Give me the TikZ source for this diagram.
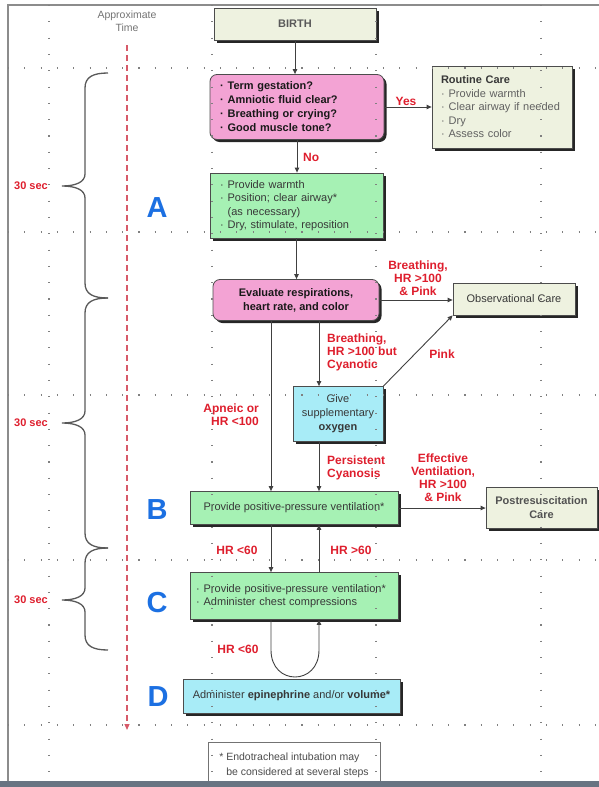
\documentclass[tikz,border=0pt]{standalone}
\usepackage{fontspec}
\setmainfont{Liberation Sans}
\usetikzlibrary{arrows.meta, shadows}

\definecolor{boxcream}{RGB}{238,242,224}
\definecolor{boxpink}{RGB}{243,163,212}
\definecolor{boxgreen}{RGB}{166,241,180}
\definecolor{boxcyan}{RGB}{168,236,247}
\definecolor{lblred}{RGB}{222,30,45}
\definecolor{stepblue}{RGB}{28,112,226}
\definecolor{timered}{RGB}{215,90,105}
\definecolor{barblue}{RGB}{104,116,130}
\newcommand{\itm}{\textperiodcentered\hspace{4pt}}

\tikzset{
  box/.style={draw=black!70, line width=0.8pt, text=black!78, inner sep=0pt,
    font=\fontsize{11}{13.5}\selectfont,
    drop shadow={shadow xshift=2.5pt, shadow yshift=-2.5pt, opacity=1, fill=black!85}},
  creambox/.style={box, fill=boxcream},
  pinkbox/.style={box, fill=boxpink, rounded corners=7pt, text=black!90,
    font=\fontsize{11}{14}\selectfont\bfseries},
  greenbox/.style={box, fill=boxgreen},
  cyanbox/.style={box, fill=boxcyan},
  arr/.style={-{Triangle[length=5pt,width=4.5pt]}, line width=0.9pt, draw=black!75},
  lbl/.style={text=lblred, font=\fontsize{12}{13}\selectfont\bfseries, inner sep=0pt},
  letter/.style={text=stepblue, font=\fontsize{29}{29}\selectfont\bfseries, inner sep=0pt},
  griddots/.style={black!50, line width=1.1pt, dash pattern=on 1.1pt off 15.2pt},
  brc/.style={black!65, line width=1.3pt},
}

\begin{document}
\begin{tikzpicture}[x=1pt, y=-1pt]
  \useasboundingbox (0,0) rectangle (599,787);
  % frame
  \draw[black!45, line width=1.6pt] (8,787) -- (8,5) -- (599,5);

  % time axis and braces
  \node[text=black!55, font=\fontsize{10.5}{13}\selectfont, align=center, inner sep=0pt] (time) at (127,21) {Approximate\\Time};
  \coordinate (ttop) at (127,45);
  \coordinate (tend) at (127,730);
  \draw[timered, line width=1.2pt, dash pattern=on 6pt off 4pt, -{Triangle[length=6pt,width=5pt]}] (ttop) -- (tend);
  \foreach \ya/\yb/\yc [count=\i] in {73/186/298, 298/423/548, 548/600/650} {
    \draw[brc] (108,\ya) .. controls (93,\ya) and (85,{\ya+4}) .. (85,{\ya+15})
      -- (85,{\yb-12}) .. controls (85,{\yb-4}) and (76,\yb) .. (62,\yb)
      .. controls (76,\yb) and (85,{\yb+4}) .. (85,{\yb+12})
      -- (85,{\yc-15}) .. controls (85,{\yc-4}) and (93,\yc) .. (108,\yc);
    \node[lbl, font=\fontsize{11}{13}\selectfont\bfseries] (sec\i) at (31,\yb) {30 sec};
  }

  % boxes
  \node[creambox, minimum width=162pt, minimum height=32pt, text=black!65, font=\fontsize{11}{13}\selectfont\bfseries] (birth) at (295,24) {BIRTH};
  \node[pinkbox, text width=154pt, inner xsep=10pt, minimum height=65pt, align=left] (assess) at (297,107)
    {\itm Term gestation?\\ \itm Amniotic fluid clear?\\ \itm Breathing or crying?\\ \itm Good muscle tone?};
  \node[creambox, text width=122pt, inner xsep=9pt, minimum height=82pt, align=left] (routine) at (502,107)
    {\textbf{Routine Care}\\ \textcolor{black!62}{\itm Provide warmth}\\ \textcolor{black!62}{\itm Clear airway if needed}\\
     \textcolor{black!62}{\itm Dry}\\ \textcolor{black!62}{\itm Assess color}};
  \node[greenbox, text width=153pt, inner xsep=10pt, minimum height=65pt, align=left] (initial) at (296.5,205.5)
    {\itm Provide warmth\\ \itm Position; clear airway*\\ \hphantom{\itm}(as necessary)\\ \itm Dry, stimulate, reposition};
  \node[pinkbox, minimum width=166pt, minimum height=41pt, align=center] (evaluate) at (296,300)
    {Evaluate respirations,\\heart rate, and color};
  \node[creambox, minimum width=122pt, minimum height=32pt] (observe) at (514,299) {Observational Care};
  \node[cyanbox, minimum width=90pt, minimum height=55pt, align=center, font=\fontsize{11}{14}\selectfont] (oxygen) at (338,414)
    {Give\\supplementary\\\textbf{oxygen}};
  \node[greenbox, minimum width=208pt, minimum height=33pt] (ppv) at (294,508) {Provide positive-pressure ventilation*};
  \node[creambox, minimum width=111pt, minimum height=41pt, align=center, text=black!68, font=\fontsize{11}{14}\selectfont\bfseries] (postcare) at (541.5,507.5)
    {Postresuscitation\\Care};
  \node[greenbox, text width=196pt, inner xsep=6pt, minimum height=47pt, align=left] (compress) at (294,596)
    {\itm Provide positive-pressure ventilation*\\ \itm Administer chest compressions};
  \node[cyanbox, minimum width=217pt, minimum height=34pt] (epi) at (291.5,696)
    {Administer \textbf{epinephrine} and/or \textbf{volume*}};
  \node[draw=black!55, line width=0.8pt, fill=white, text=black!70, font=\fontsize{10.5}{15}\selectfont, align=left,
    minimum width=172pt, minimum height=46pt, inner sep=0pt] (note) at (294,765)
    {* Endotracheal intubation may\\\hphantom{* }be considered at several steps};

  % step letters
  \node[letter] (la) at (157,208) {A};
  \node[letter] (lb) at (157,510) {B};
  \node[letter] (lc) at (157,603) {C};
  \node[letter] (ld) at (158,697) {D};

  % columns
  \coordinate (c1) at (271,0);
  \coordinate (c2) at (319,0);
  \coordinate (loopl) at (271,650);
  \coordinate (loopr) at (319,650);

  % connectors
  \draw[arr] (birth.south) -- (birth.south |- assess.north);
  \draw[arr] (assess.east) -- (assess.east -| routine.west);
  \draw[arr] (assess.south) -- (assess.south |- initial.north);
  \draw[arr] (initial.south) -- (initial.south |- evaluate.north);
  \draw[arr] (evaluate.east) -- (evaluate.east -| observe.west);
  \draw[arr] (evaluate.south -| c2) -- (oxygen.north -| c2);
  \draw[arr] (evaluate.south -| c1) -- (ppv.north -| c1);
  \draw[arr] (oxygen.north east) -- (observe.south west);
  \draw[arr] (oxygen.south -| c2) -- (ppv.north -| c2);
  \draw[arr] (ppv.east) -- (ppv.east -| postcare.west);
  \draw[arr] (ppv.south -| c1) -- (compress.north -| c1);
  \draw[arr] (compress.north -| c2) -- (ppv.south -| c2);
  \draw[arr] (compress.south -| c1) -- (loopl) .. controls (271,686) and (319,686) .. (loopr) -- (compress.south -| c2);

  % labels
  \node[lbl] (yes) at (406,101) {Yes};
  \node[lbl, anchor=west] (no) at (303,157) {No};
  \node[lbl, align=center] (breathpink) at (418,278) {Breathing,\\HR >100\\\& Pink};
  \node[lbl, align=left, anchor=west] (cyanotic) at (327,352) {Breathing,\\HR >100 but\\Cyanotic};
  \node[lbl] (pink) at (442,354) {Pink};
  \node[lbl, align=right, anchor=east] (apneic) at (259,415) {Apneic or\\HR <100};
  \node[lbl, align=left, anchor=west] (persist) at (327,468) {Persistent\\Cyanosis};
  \node[lbl, align=center] (effective) at (443,478) {Effective\\Ventilation,\\HR >100\\\& Pink};
  \node[lbl] (hrlow) at (237,550) {HR <60};
  \node[lbl] (hrhigh) at (351,550) {HR >60};
  \node[lbl] (hrloop) at (238,649) {HR <60};

  % slide grid
  \foreach \gy in {68,232,395,560,725}
    \draw[griddots] (8,\gy) -- (599,\gy);
  \foreach \gx in {49,212,376,541}
    \draw[griddots] (\gx,5) -- (\gx,781);

  % bottom bar
  \fill[barblue] (0,781) rectangle (599,787);
\end{tikzpicture}
\end{document}
